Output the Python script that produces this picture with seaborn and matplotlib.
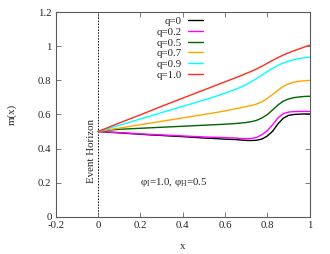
import numpy as np
import pandas as pd
import matplotlib
matplotlib.use('Agg')
import matplotlib.pyplot as plt
import seaborn as sns

# sample positions along x and m(x)
x_vals = [0.0, 0.05, 0.1, 0.15, 0.2, 0.25, 0.3, 0.35, 0.4, 0.45, 0.5,
          0.55, 0.6, 0.65, 0.675, 0.7, 0.725, 0.75, 0.775, 0.8, 0.825,
          0.85, 0.875, 0.9, 0.925, 0.95, 0.975, 1.0]

m_q00 = [0.500, 0.496, 0.492, 0.488, 0.484, 0.480, 0.477, 0.473, 0.470, 0.466, 0.462,
         0.459, 0.455, 0.453, 0.450, 0.448, 0.447, 0.449, 0.456, 0.474, 0.502,
         0.545, 0.578, 0.595, 0.600, 0.602, 0.603, 0.603]
m_q02 = [0.500, 0.497, 0.494, 0.490, 0.486, 0.483, 0.480, 0.477, 0.474, 0.471, 0.468,
         0.466, 0.464, 0.462, 0.459, 0.458, 0.459, 0.466, 0.482, 0.505, 0.540,
         0.580, 0.605, 0.614, 0.617, 0.618, 0.618, 0.618]
m_q05 = [0.500, 0.508, 0.513, 0.516, 0.519, 0.522, 0.525, 0.528, 0.531, 0.534, 0.537,
         0.540, 0.543, 0.547, 0.550, 0.553, 0.558, 0.566, 0.580, 0.600, 0.627,
         0.656, 0.678, 0.691, 0.699, 0.703, 0.706, 0.707]
m_q07 = [0.500, 0.510, 0.520, 0.530, 0.540, 0.550, 0.560, 0.570, 0.580, 0.590, 0.600,
         0.610, 0.621, 0.634, 0.640, 0.647, 0.653, 0.662, 0.675, 0.695, 0.718,
         0.743, 0.765, 0.780, 0.790, 0.795, 0.798, 0.800]
m_q09 = [0.500, 0.518, 0.537, 0.555, 0.574, 0.592, 0.611, 0.629, 0.648, 0.666, 0.685,
         0.704, 0.725, 0.748, 0.761, 0.776, 0.793, 0.812, 0.832, 0.852, 0.871,
         0.888, 0.902, 0.913, 0.922, 0.928, 0.933, 0.937]
m_q10 = [0.500, 0.525, 0.550, 0.574, 0.598, 0.623, 0.648, 0.672, 0.696, 0.720, 0.744,
         0.768, 0.792, 0.816, 0.828, 0.841, 0.854, 0.868, 0.884, 0.901, 0.918,
         0.934, 0.949, 0.962, 0.974, 0.985, 0.996, 1.007]

labels = ['q=0', 'q=0.2', 'q=0.5', 'q=0.7', 'q=0.9', 'q=1.0']
series = [m_q00, m_q02, m_q05, m_q07, m_q09, m_q10]
colors = ['#000000', '#ff00ff', '#006400', '#ffa500', '#00ffff', '#ff2a1a']

x_ticks = [-0.2, 0, 0.2, 0.4, 0.6, 0.8, 1]
x_ticklabels = ['-0.2', '0', '0.2', '0.4', '0.6', '0.8', '1']
y_ticks = [0, 0.2, 0.4, 0.6, 0.8, 1, 1.2]
y_ticklabels = ['0', '0.2', '0.4', '0.6', '0.8', '1', '1.2']

sns.set_style('ticks')
plt.rcParams['font.family'] = ['Liberation Serif', 'DejaVu Serif']
plt.rcParams['mathtext.fontset'] = 'custom'
plt.rcParams['mathtext.rm'] = 'Liberation Serif'
plt.rcParams['mathtext.it'] = 'Liberation Serif:italic'
fs = 7.8

fig = plt.figure(figsize=(3.3, 2.54), dpi=100)
ax = fig.add_axes([0.169, 0.147, 0.7695, 0.8045])

df = pd.DataFrame({
    'x': np.tile(x_vals, len(series)),
    'm': np.concatenate(series),
    'q': np.repeat(labels, len(x_vals)),
})
sns.lineplot(data=df, x='x', y='m', hue='q', hue_order=labels,
             palette=dict(zip(labels, colors)), lw=1.0, ax=ax)

ax.axvline(0, color='black', ls=(0, (1.5, 1.5)), lw=0.7, zorder=0)

ax.set_xlim(-0.2, 1)
ax.set_ylim(0, 1.2)
ax.set_xticks(x_ticks)
ax.set_xticklabels(x_ticklabels)
ax.set_yticks(y_ticks)
ax.set_yticklabels(y_ticklabels)
ax.tick_params(direction='in', length=3.5, width=0.6, color='#666666',
               labelsize=fs, top=True, right=True, pad=3)
for s in ax.spines.values():
    s.set_color('#5a5a5a')
    s.set_linewidth(0.8)

ax.set_xlabel('x', fontsize=fs)
ax.set_ylabel('m(x)', fontsize=fs)
ax.xaxis.set_label_coords(0.5, -0.125)
ax.yaxis.set_label_coords(-0.155, 0.5)

ax.text(-0.03, 0.2, 'Event Horizon', rotation=90, ha='center', va='bottom', fontsize=fs)
ax.text(0.2, 0.2, r'φ$_{\rm I}$=1.0, φ$_{\rm H}$=0.5', ha='left', va='center', fontsize=fs)

leg = ax.legend(loc='upper right', bbox_to_anchor=(0.595, 1.0), frameon=False,
                markerfirst=False, fontsize=fs, handlelength=1.3,
                handletextpad=0.6, labelspacing=0.1, borderaxespad=0.2, borderpad=0.2)

fig.savefig('out.png', dpi=100)
plt.close(fig)
